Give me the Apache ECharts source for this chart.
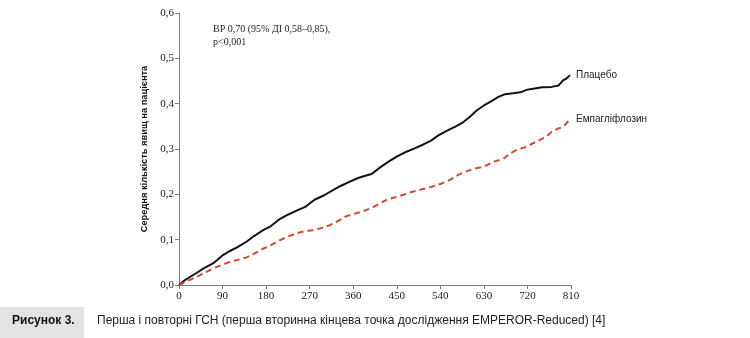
<!DOCTYPE html>
<html><head><meta charset="utf-8">
<script src="https://cdn.jsdelivr.net/npm/echarts@6/dist/echarts.min.js"></script>
<style>html,body{margin:0;padding:0;background:#fff}#c{width:750px;height:338px}</style>
</head><body><div id="c"></div>
<script>
const xTicks = [0, 90, 180, 270, 360, 450, 540, 630, 720, 810];
const yTicks = [0, 0.1, 0.2, 0.3, 0.4, 0.5, 0.6];
const placeboDays = [0, 10, 20, 37, 50, 71, 91, 105, 120, 140, 155, 174, 190, 209, 225, 243, 262, 280, 300, 319, 335, 353, 370, 385, 398, 415, 433, 450, 470, 488, 505, 520, 536, 553, 570, 587, 600, 615, 630, 643, 660, 674, 690, 705, 720, 732, 750, 770, 784, 790, 794, 800, 808];
const placeboVals = [0, 0.009, 0.016, 0.027, 0.036, 0.048, 0.066, 0.075, 0.083, 0.096, 0.108, 0.121, 0.130, 0.146, 0.155, 0.164, 0.173, 0.188, 0.198, 0.210, 0.219, 0.228, 0.236, 0.241, 0.245, 0.259, 0.272, 0.283, 0.294, 0.302, 0.310, 0.318, 0.330, 0.340, 0.349, 0.359, 0.370, 0.385, 0.396, 0.404, 0.415, 0.421, 0.423, 0.425, 0.431, 0.433, 0.436, 0.437, 0.440, 0.447, 0.452, 0.455, 0.463];
const empaDays = [0, 15, 37, 55, 71, 90, 105, 120, 140, 160, 174, 190, 209, 225, 243, 260, 278, 295, 312, 330, 346, 365, 381, 398, 415, 429, 445, 464, 480, 498, 520, 543, 560, 577, 592, 608, 625, 636, 650, 670, 684, 698, 718, 732, 746, 760, 770, 783, 794, 800, 808];
const empaVals = [0, 0.008, 0.018, 0.028, 0.037, 0.045, 0.051, 0.055, 0.061, 0.072, 0.080, 0.088, 0.099, 0.107, 0.114, 0.119, 0.121, 0.126, 0.132, 0.142, 0.152, 0.158, 0.163, 0.170, 0.180, 0.188, 0.193, 0.199, 0.205, 0.210, 0.216, 0.224, 0.232, 0.243, 0.250, 0.256, 0.260, 0.264, 0.272, 0.278, 0.290, 0.298, 0.305, 0.313, 0.320, 0.328, 0.338, 0.345, 0.349, 0.356, 0.366];
const seriesNames = ['Плацебо', 'Емпагліфлозин'];
const yAxisTitle = 'Середня кількість явищ на пацієнта';
const annotation = ['ВР 0,70 (95% ДІ 0,58–0,85),', 'p<0,001'];
const figLabel = 'Рисунок 3.';
const caption = 'Перша і повторні ГСН (перша вторинна кінцева точка дослідження EMPEROR-Reduced) [4]';

const zip = (a, b) => a.map((v, i) => [v, b[i]]);
const fmt = v => v.toFixed(1).replace('.', ',');
const serif = 'Liberation Serif';
const narrow = '"Liberation Sans Narrow", "Liberation Sans", sans-serif';

const chart = echarts.init(document.getElementById('c'), null, {renderer: 'canvas'});
chart.setOption({
  animation: false,
  backgroundColor: '#fff',
  grid: {left: 179, right: 179, top: 13, bottom: 53},
  xAxis: {
    type: 'value', min: 0, max: 810, interval: 90,
    axisLine: {show: true, lineStyle: {color: '#7a7a7a', width: 1}},
    axisTick: {show: true, length: 4, lineStyle: {color: '#7a7a7a'}},
    axisLabel: {color: '#222', fontFamily: serif, fontSize: 11, margin: 6},
    splitLine: {show: false}
  },
  yAxis: {
    type: 'value', min: 0, max: 0.6, interval: 0.1,
    name: yAxisTitle, nameLocation: 'middle', nameGap: 29, nameRotate: 90,
    nameTextStyle: {fontFamily: 'Liberation Sans', fontWeight: 'bold', fontSize: 9.3, color: '#111'},
    axisLine: {show: true, lineStyle: {color: '#7a7a7a', width: 1}},
    axisTick: {show: true, length: 4, lineStyle: {color: '#7a7a7a'}},
    axisLabel: {color: '#222', fontFamily: serif, fontSize: 11, margin: 5, formatter: fmt},
    splitLine: {show: false}
  },
  series: [
    {
      name: seriesNames[0], type: 'line', data: zip(placeboDays, placeboVals),
      showSymbol: false, symbol: 'none',
      lineStyle: {color: '#111', width: 2},
      endLabel: {show: true, formatter: seriesNames[0], distance: 6, color: '#222', fontFamily: narrow, fontSize: 10}
    },
    {
      name: seriesNames[1], type: 'line', data: zip(empaDays, empaVals),
      showSymbol: false, symbol: 'none',
      lineStyle: {color: '#d4482b', width: 2, type: [6, 4]},
      endLabel: {show: true, formatter: seriesNames[1], distance: 6, color: '#222', fontFamily: narrow, fontSize: 10}
    }
  ],
  graphic: [
    {type: 'text', left: 213, top: 23, style: {text: annotation.join('\n'), font: '10px ' + serif, fill: '#222', lineHeight: 13}},
    {type: 'rect', shape: {x: 0, y: 307, width: 84, height: 31}, style: {fill: '#e3e3e3'}},
    {type: 'text', left: 12, top: 315, style: {text: figLabel, font: 'bold 12px ' + narrow, fill: '#111'}},
    {type: 'text', left: 97, top: 315, style: {text: caption, font: '12px ' + narrow, fill: '#222'}}
  ]
});
</script></body></html>
